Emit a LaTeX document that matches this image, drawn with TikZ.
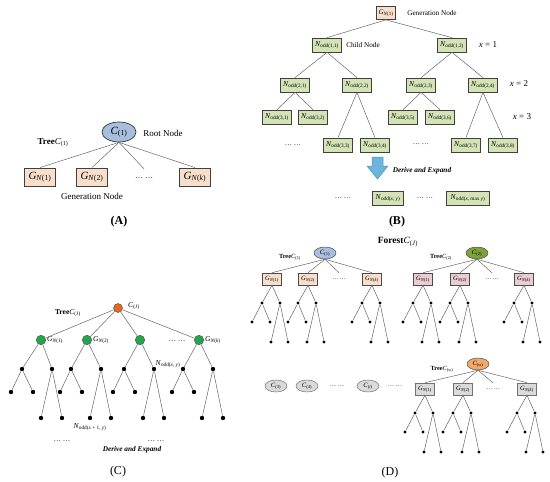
\documentclass[tikz,border=0pt]{standalone}
\usepackage{fontspec}
\setmainfont{Liberation Serif}
\usetikzlibrary{positioning,shapes.geometric}
\definecolor{rootblue}{HTML}{A7BEDC}
\definecolor{genpeach}{HTML}{F7DFCB}
\definecolor{childgreen}{HTML}{D3E3B5}
\definecolor{treegreen}{HTML}{7EA23B}
\definecolor{genpink}{HTML}{E9CDD3}
\definecolor{treeorange}{HTML}{F3A86B}
\definecolor{gengray}{HTML}{DADADA}
\definecolor{arrowblue}{HTML}{6DB5DA}
\definecolor{arrowedge}{HTML}{4C93BC}
\definecolor{rootorange}{HTML}{E2691D}
\definecolor{dotgreen}{HTML}{21A64B}
\newcommand{\gnode}[1]{\textit{G}\textsubscript{\textit{N}(#1)}}
\newcommand{\cnode}[1]{\textit{C}\textsubscript{(#1)}}
\newcommand{\nodd}[1]{\textit{N}\textsubscript{odd(#1)}}
\tikzset{
  edge/.style={draw=black!60, line width=0.5pt},
  leaf/.style={circle, fill=black, inner sep=0pt, minimum size=3.4pt},
  leafC/.style={leaf, minimum size=4.4pt},
  rootA/.style={ellipse, draw=black!80, line width=0.7pt, fill=rootblue, inner sep=0pt, minimum width=34pt, minimum height=20pt, font=\fontsize{11}{12}\selectfont},
  genbox/.style={draw=black!75, line width=0.9pt, fill=genpeach, inner sep=0pt, minimum width=31pt, minimum height=18pt, font=\fontsize{11}{12}\selectfont},
  genboxB/.style={genbox, line width=0.7pt, minimum width=19pt, minimum height=13pt, font=\fontsize{7}{8}\selectfont},
  childbox/.style={draw=black!75, line width=0.7pt, fill=childgreen, inner sep=0pt, minimum width=29pt, minimum height=14pt, font=\fontsize{7.5}{8}\selectfont},
  treeroot/.style={ellipse, draw=black!70, line width=0.5pt, inner sep=0pt, minimum width=22pt, minimum height=12pt, font=\fontsize{6.5}{7}\selectfont},
  genboxD/.style={draw=black!70, line width=0.6pt, inner sep=0pt, minimum width=19pt, minimum height=12pt, font=\fontsize{6.5}{7}\selectfont},
  gapA/.style={inner sep=0pt, minimum height=18pt, font=\fontsize{8}{9}\selectfont},
  gapD/.style={inner sep=0pt, minimum height=12pt, font=\fontsize{6}{7}\selectfont},
  lblA/.style={font=\fontsize{9}{10}\selectfont, inner sep=0pt},
  lblB/.style={font=\fontsize{7.2}{8}\selectfont, inner sep=0pt},
  lblC/.style={font=\fontsize{7.5}{8}\selectfont, inner sep=0pt},
  lblD/.style={font=\fontsize{6.3}{7}\selectfont, inner sep=0pt},
  panel/.style={font=\fontsize{12}{13}\selectfont, inner sep=0pt},
  derive/.style={font=\fontsize{7.3}{8}\selectfont\bfseries\itshape, inner sep=0pt},
  rootdot/.style={circle, draw=black!70, fill=rootorange, inner sep=0pt, minimum size=9pt},
  gendot/.style={circle, draw=black!70, fill=dotgreen, inner sep=0pt, minimum size=9.5pt}
}
\begin{document}
\begin{tikzpicture}[x=1pt, y=-1pt]
  \useasboundingbox (0,0) rectangle (550,482);

  % (A) one tree
  \node[rootA] (aroot) at (119,132) {\cnode{1}};
  \node[lblA] at (163,133) {Root Node};
  \node[lblA] at (53,143) {\textbf{Tree}\cnode{1}};
  \node[genbox] (ag1) at (40,177) {\gnode{1}};
  \node[genbox] (ag2) at (92,177) {\gnode{2}};
  \node[gapA] (adots) at (144,178) {\dots\ \dots};
  \node[genbox] (agk) at (195,177) {\gnode{\textit{k}}};
  \foreach \t in {ag1,ag2,adots,agk}
    \draw[edge] (aroot.south) -- (\t.north);
  \node[lblA] at (92,196) {Generation Node};
  \node[panel] at (119,222) {\textbf{(A)}};

  % (B) generation node expanded
  \node[genboxB] (bgn) at (386,13) {\gnode{1}};
  \node[lblB] at (432,13) {Generation Node};
  \node[childbox] (b11) at (327,45) {\nodd{1,1}};
  \node[lblB] at (363,45) {Child Node};
  \node[childbox] (b12) at (452,45) {\nodd{1,2}};
  \node[lblA] at (488,45) {\textit{x} = 1};
  \node[childbox] (b21) at (295,85) {\nodd{2,1}};
  \node[childbox] (b22) at (357,85) {\nodd{2,2}};
  \node[childbox] (b23) at (421,85) {\nodd{2,3}};
  \node[childbox] (b24) at (483,85) {\nodd{2,4}};
  \node[lblA] at (519,84) {\textit{x} = 2};
  \node[childbox] (b31) at (277,117) {\nodd{3,1}};
  \node[childbox] (b32) at (313,117) {\nodd{3,2}};
  \node[childbox] (b35) at (403,117) {\nodd{3,5}};
  \node[childbox] (b36) at (440,117) {\nodd{3,6}};
  \node[lblA] at (522,117) {\textit{x} = 3};
  \node[childbox] (b33) at (338,145) {\nodd{3,3}};
  \node[childbox] (b34) at (375,145) {\nodd{3,4}};
  \node[childbox] (b37) at (466,145) {\nodd{3,7}};
  \node[childbox] (b38) at (503,145) {\nodd{3,8}};
  \node[lblB] at (293,145) {\dots\ \dots};
  \node[lblB] at (421,144) {\dots\ \dots};
  \foreach \p/\c in {bgn/b11, bgn/b12, b11/b21, b11/b22, b12/b23, b12/b24,
                     b21/b31, b21/b32, b22/b33, b22/b34, b23/b35, b23/b36, b24/b37, b24/b38}
    \draw[edge] (\p.south) -- (\c.north);
  \draw[fill=arrowblue, draw=arrowedge, line width=0.5pt]
    (372,157) -- (383,157) -- (383,166) -- (388,166) -- (377.5,179) -- (367,166) -- (372,166) -- cycle;
  \node[derive] at (422,171) {Derive and Expand};
  \node[lblB] at (343,198) {\dots\ \dots};
  \node[childbox, minimum width=31pt] (bxy) at (388,198) {\nodd{\textit{x}, \textit{y}}};
  \node[lblB] at (425,198) {\dots\ \dots};
  \node[childbox, minimum width=43pt] (bxm) at (468,198) {\nodd{\textit{x}, max \textit{y}}};
  \node[panel] at (397,222) {\textbf{(B)}};

  % (C) tree of dots
  \node[rootdot] (cj) at (118,308) {};
  \node[lblC] at (134,306) {\cnode{\textit{J}}};
  \node[lblC] at (68,313) {\textbf{Tree}\cnode{\textit{J}}};
  \node[gendot, label={[lblC, xshift=1pt]east:\gnode{1}}] (cg1) at (41,340) {};
  \node[gendot, label={[lblC, xshift=1pt]east:\gnode{2}}] (cg2) at (87,340) {};
  \node[gendot] (cg3) at (140,340) {};
  \node[lblC] at (177,341) {\dots\ \dots};
  \node[gendot, label={[lblC, xshift=1pt]east:\gnode{\textit{k}}}] (cgk) at (199,340) {};
  \foreach \g/\bx in {cg1/38, cg2/87, cg3/140, cgk/199}{
    \draw[edge] (cj) -- (\g);
    \node[leafC] (\g-a) at (\bx-16,369) {};
    \node[leafC] (\g-b) at (\bx+14,369) {};
    \node[leafC] (\g-aa) at (\bx-27,392) {};
    \node[leafC] (\g-ab) at (\bx-5,392) {};
    \node[leafC] (\g-ba) at (\bx+3,418) {};
    \node[leafC] (\g-bb) at (\bx+24,418) {};
    \draw[edge] (\g) -- (\g-a);
    \draw[edge] (\g) -- (\g-b);
    \draw[edge] (\g-a) -- (\g-aa);
    \draw[edge] (\g-a) -- (\g-ab);
    \draw[edge] (\g-b) -- (\g-ba);
    \draw[edge] (\g-b) -- (\g-bb);
  }
  \node[lblC] at (168,364) {\nodd{\textit{x}, \textit{y}}};
  \node[lblC] at (90,427) {\nodd{\textit{x} + 1, \textit{y}}};
  \node[lblC] at (62,441) {\dots\ \dots};
  \node[lblC] at (156,441) {\dots\ \dots};
  \node[derive] at (132,450) {Derive and Expand};
  \node[panel] at (118,472) {(C)};

  % (D) forest of trees
  \node[font=\fontsize{9.5}{10}\selectfont, inner sep=0pt] at (398,242) {\textbf{Forest}\cnode{\textit{J}}};
  \node[treeroot, fill=rootblue] (t1c) at (325,253) {\cnode{1}};
  \node[lblD] at (290,257) {\textbf{Tree}\cnode{1}};
  \node[genboxD, fill=genpeach] (t1g1) at (272,279) {\gnode{1}};
  \node[genboxD, fill=genpeach] (t1g2) at (308,279) {\gnode{2}};
  \node[gapD] (t1dots) at (339,279) {\dots\ \dots};
  \node[genboxD, fill=genpeach] (t1gk) at (372,279) {\gnode{\textit{k}}};
  \node[treeroot, fill=treegreen] (t2c) at (477,253) {\cnode{2}};
  \node[lblD] at (441,257) {\textbf{Tree}\cnode{2}};
  \node[genboxD, fill=genpink] (t2g1) at (423,279) {\gnode{1}};
  \node[genboxD, fill=genpink] (t2g2) at (460,279) {\gnode{2}};
  \node[gapD] (t2dots) at (492,279) {\dots\ \dots};
  \node[genboxD, fill=genpink] (t2gk) at (524,279) {\gnode{\textit{k}}};
  \node[treeroot, fill=treeorange] (t3c) at (478,364) {\cnode{\textit{w}}};
  \node[lblD] at (442,369) {\textbf{Tree}\cnode{\textit{w}}};
  \node[genboxD, fill=gengray, draw=black!55] (t3g1) at (425,389) {\gnode{1}};
  \node[genboxD, fill=gengray, draw=black!55] (t3g2) at (463,389) {\gnode{2}};
  \node[gapD] (t3dots) at (493,389) {\dots\ \dots};
  \node[genboxD, fill=gengray, draw=black!55] (t3gk) at (527,389) {\gnode{\textit{k}}};
  \foreach \r in {1,2,3}
    \foreach \t in {g1,g2,dots,gk}
      \draw[edge] (t\r c.south) -- (t\r\t.north);
  \foreach \b/\cx/\yb in {t1g1/272/285, t1g2/308/285, t1gk/372/285,
                          t2g1/423/285, t2g2/460/285, t2gk/524/285,
                          t3g1/425/395, t3g2/463/395, t3gk/527/395}{
    \node[leaf] (\b-a) at (\cx-10,\yb+18) {};
    \node[leaf] (\b-b) at (\cx+8,\yb+18) {};
    \node[leaf] (\b-aa) at (\cx-20,\yb+37) {};
    \node[leaf] (\b-ab) at (\cx-2,\yb+37) {};
    \node[leaf] (\b-ba) at (\cx-1,\yb+57) {};
    \node[leaf] (\b-bb) at (\cx+16,\yb+57) {};
    \draw[edge] (\b.south) -- (\b-a);
    \draw[edge] (\b.south) -- (\b-b);
    \draw[edge] (\b-a) -- (\b-aa);
    \draw[edge] (\b-a) -- (\b-ab);
    \draw[edge] (\b-b) -- (\b-ba);
    \draw[edge] (\b-b) -- (\b-bb);
  }
  \node[treeroot, fill=gengray, draw=black!55] (c3) at (276,386) {\cnode{3}};
  \node[treeroot, fill=gengray, draw=black!55] (c4) at (307,386) {\cnode{4}};
  \node[lblD] at (337,386) {\dots\ \dots};
  \node[treeroot, fill=gengray, draw=black!55] (ci) at (368,386) {\cnode{\textit{i}}};
  \node[lblD] at (395,386) {\dots\ \dots};
  \node[panel] at (390,473) {(D)};
\end{tikzpicture}
\end{document}
